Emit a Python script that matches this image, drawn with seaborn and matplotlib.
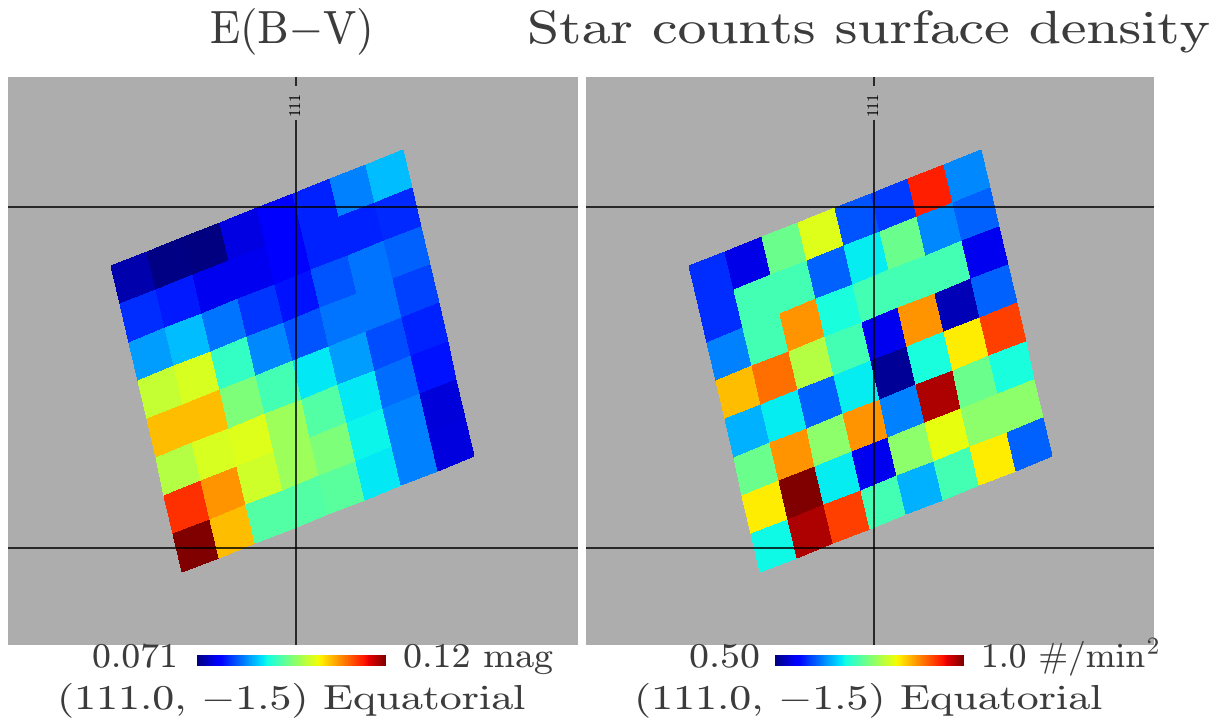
import numpy as np
import matplotlib
matplotlib.use('Agg')
import matplotlib.pyplot as plt
import matplotlib.patheffects as pe
from matplotlib.transforms import Affine2D
import seaborn as sns

# Map cell values, top row of the tilted patch first
ebv_values = [
    [0.0730, 0.0712, 0.0710, 0.0754, 0.0764, 0.0788, 0.0833, 0.0862],
    [0.0793, 0.0784, 0.0759, 0.0759, 0.0769, 0.0788, 0.0788, 0.0791],
    [0.0847, 0.0862, 0.0828, 0.0798, 0.0779, 0.0813, 0.0828, 0.0818],
    [0.0999, 0.1009, 0.0911, 0.0837, 0.0813, 0.0828, 0.0828, 0.0803],
    [0.1058, 0.1058, 0.0955, 0.0921, 0.0884, 0.0847, 0.0808, 0.0788],
    [0.0989, 0.1009, 0.1014, 0.0975, 0.0931, 0.0884, 0.0823, 0.0779],
    [0.1131, 0.1078, 0.1004, 0.0975, 0.0955, 0.0889, 0.0833, 0.0749],
    [0.1200, 0.1058, 0.0931, 0.0931, 0.0935, 0.0884, 0.0833, 0.0752],
]
density_values = [
    [0.585, 0.545, 0.740, 0.810, 0.605, 0.590, 0.9375, 0.630],
    [0.585, 0.715, 0.715, 0.610, 0.678, 0.740, 0.630, 0.610],
    [0.625, 0.715, 0.875, 0.690, 0.715, 0.715, 0.715, 0.550],
    [0.855, 0.895, 0.785, 0.715, 0.550, 0.875, 0.525, 0.610],
    [0.650, 0.678, 0.610, 0.678, 0.510, 0.690, 0.830, 0.920],
    [0.740, 0.875, 0.760, 0.875, 0.625, 0.980, 0.740, 0.690],
    [0.830, 1.000, 0.678, 0.550, 0.760, 0.815, 0.760, 0.760],
    [0.685, 0.980, 0.920, 0.715, 0.650, 0.715, 0.830, 0.610],
]
ebv_range = (0.071, 0.12)
density_range = (0.50, 1.0)

W, H = 1228, 721
GRAY = '#adadad'
plt.rcParams['font.family'] = ['cmr10', 'DejaVu Sans']
plt.rcParams['mathtext.fontset'] = 'cm'
plt.rcParams['axes.unicode_minus'] = False

fig = plt.figure(figsize=(W / 100, H / 100), dpi=100)


def px_axes(x0, y0, x1, y1):
    # axes from picture pixels, y counted from the top
    return fig.add_axes([x0 / W, 1 - y1 / H, (x1 - x0) / W, (y1 - y0) / H])


def draw_panel(values, limits, x0, x1, bar_x0):
    ax = px_axes(x0, 77, x1, 645)
    cax = px_axes(bar_x0, 655, bar_x0 + 189, 666)
    sns.heatmap(np.array(values), ax=ax, cmap='jet', vmin=limits[0], vmax=limits[1],
                xticklabels=False, yticklabels=False, cbar_ax=cax,
                cbar_kws={'orientation': 'horizontal', 'ticks': []})
    mesh = ax.collections[0]
    mesh.colorbar.outline.set_visible(False)

    ax.set_facecolor(GRAY)
    ax.set_xlim(0, x1 - x0)
    ax.set_ylim(645 - 77, 0)
    # tilt the cell grid into the gnomonic view
    tilt = Affine2D(np.array([[36.5, 8.96, 102.7], [-14.5, 38.3, 189.0], [0, 0, 1]]))
    mesh.set_transform(tilt + ax.transData)

    # graticule
    ax.axvline(288, color='black', lw=1.1)
    ax.axhline(130, color='black', lw=1.1)
    ax.axhline(471, color='black', lw=1.1)
    ax.text(288, 26, '111', rotation=90, ha='center', va='center', fontsize=11.5,
            bbox=dict(facecolor=GRAY, edgecolor='none', pad=3.5))


draw_panel(ebv_values, ebv_range, 8, 578, 197)
draw_panel(density_values, density_range, 586, 1154, 775)


class WidenText(pe.AbstractPathEffect):
    # the reference text is set wider than cmr10 runs, so widen it from its left edge
    def __init__(self, factor, x0):
        super().__init__()
        self.factor = factor
        self.x0 = x0

    def draw_path(self, renderer, gc, tpath, affine, rgbFace=None):
        widen = Affine2D().translate(-self.x0, 0).scale(self.factor, 1).translate(self.x0, 0)
        renderer.draw_path(gc, tpath, affine + widen, rgbFace)


def label(x0, x1, y, s, size):
    t = fig.text(x0 / W, 1 - y / H, s, fontsize=size, ha='left', va='baseline', color='#3c3c3c')
    width = t.get_window_extent(fig.canvas.get_renderer()).width
    t.set_path_effects([WidenText((x1 - x0) / width, x0)])


TITLE = 33.5
SMALL = 25
label(210, 371, 43, r'E(B$-$V)', TITLE)
label(527, 1210, 43, 'Star counts surface density', TITLE)

label(92, 178, 667, '0.071', SMALL)
label(403, 553, 667, '0.12 mag', SMALL)
label(57, 527, 709, r'(111.0, $-$1.5) Equatorial', SMALL)

label(689, 760, 667, '0.50', SMALL)
label(981, 1160, 667, r'1.0 #/min$^{2}$', SMALL)
label(634, 1104, 709, r'(111.0, $-$1.5) Equatorial', SMALL)

fig.savefig('out.png', dpi=100)
